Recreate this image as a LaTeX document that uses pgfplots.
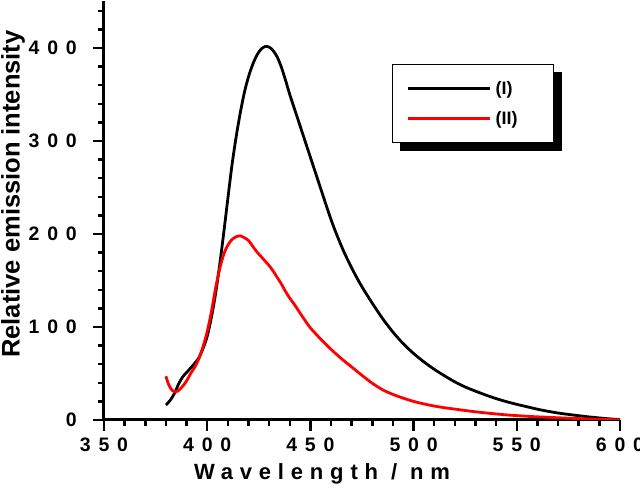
\documentclass[border=0pt]{standalone}
\usepackage{fontspec}
\setmainfont{Liberation Sans}
\newfontfamily\tickfont[LetterSpace=40]{Liberation Sans}
\newfontfamily\xlabfont[LetterSpace=31]{Liberation Sans}
\usepackage{pgfplots}
\pgfplotsset{compat=1.18}
\usetikzlibrary{backgrounds}
\begin{document}
\begin{tikzpicture}
\begin{axis}[
  width=516pt, height=418.5pt, scale only axis,
  xmin=350, xmax=600, ymin=0, ymax=450,
  axis x line=bottom, axis y line=left,
  axis line style={-, line width=3pt, black},
  xtick={350,400,...,600}, ytick={0,100,...,400},
  minor xtick={360,370,...,590},
  minor ytick={20,40,60,80,120,140,160,180,220,240,260,280,320,340,360,380,420,440},
  tick align=outside,
  major tick length=11pt, minor tick length=6pt,
  every tick/.style={black, line width=2.5pt},
  /pgf/number format/assume math mode=true,
  ticklabel style={font=\tickfont\bfseries\fontsize{19.5}{21}\selectfont, inner sep=0pt},
  xticklabel style={anchor=base, yshift=-20.7pt},
  yticklabel style={anchor=east, xshift=-16pt},
  xlabel={\xlabfont\bfseries\fontsize{22}{24}\selectfont Wavelength / nm},
  xlabel style={at={(rel axis cs:0,0)}, anchor=base, xshift=218pt, yshift=-60pt, inner sep=0pt},
  ylabel={\bfseries\fontsize{25.5}{27}\selectfont Relative emission intensity},
  ylabel style={at={([xshift=-91pt]rel axis cs:0,0.540)}, anchor=center, inner sep=0pt},
  legend style={at={(rel axis cs:0.558,0.8507)}, anchor=north west, name=leg,
    draw=black, line width=1.3pt, fill=white,
    inner xsep=14pt, inner ysep=9pt, row sep=0pt, column sep=4pt,
    font=\bfseries\fontsize{18}{20}\selectfont,
    nodes={minimum height=30pt, inner sep=0pt},
    /tikz/every even column/.append style={text width=44pt, align=left}},
  legend cell align=left,
  legend image code/.code={\draw[#1, line width=3pt] (0pt,0pt) -- (82pt,0pt);},
]
\addplot[black, line width=2.8pt, smooth] coordinates {
(380,16) (382,21) (384,28) (386,38) (388,46) (390,51) (392,56) (394,61) (396,67) (398,77)
(400,90) (402,110) (404,135) (406,166) (408,201) (410,238) (412,274) (414,304) (416,330)
(418,352) (420,369) (422,382) (424,392) (426,398.5) (428,401.5) (430,401) (432,397) (434,390)
(436,379) (438,365) (440,350) (442,336.5) (444,323) (446,309.5) (448,296) (450,282.5)
(452,269) (454,255.5) (456,242) (458,228.5) (460,215.5) (462,203.5) (464,192.5) (466,182)
(468,172.5) (470,163.5) (472,155) (474,147) (476,139.5) (478,132.5) (480,125.5) (485,109)
(490,94.5) (495,82) (500,71.5) (505,62.5) (510,54.5) (515,47.5) (520,41) (525,35.5)
(530,31) (535,26.8) (540,23) (545,19.7) (550,16.8) (555,14.2) (560,11.6) (565,9.4)
(570,7.5) (575,6) (580,4.6) (585,3.3) (590,2.2) (595,1.2) (600,0.4)
};
\addlegendentry{(I)}
\addplot[red, line width=2.8pt, smooth] coordinates {
(380,47) (381,40) (382,35) (383,32) (384,30.5) (385,30.5) (386,31.5) (388,36) (390,42)
(392,50) (394,57) (396,66) (398,79) (400,95) (402,116) (404,141) (406,162) (408,178)
(410,188) (412,194) (414,197) (416,198) (418,196) (420,193) (422,187) (424,181) (426,176)
(428,171) (430,166) (432,160) (434,153) (436,146) (438,138) (440,131) (442,125) (445,115)
(448,105) (450,99) (455,87) (460,76) (465,66) (470,57) (475,48) (480,39.5) (485,32.5)
(490,27.5) (495,23.5) (500,20) (505,17.3) (510,15) (515,13.2) (520,11.7) (525,10.2)
(530,8.8) (535,7.6) (540,6.5) (545,5.5) (550,4.7) (555,4) (560,3.4) (565,2.9) (570,2.4)
(575,1.9) (580,1.5) (585,1.1) (590,0.7) (595,0.4) (600,0.2)
};
\addlegendentry{(II)}
\coordinate (BL) at ([shift={(-104pt,-68pt)}]rel axis cs:0,0);
\coordinate (TR) at ([shift={(20pt,1.5pt)}]rel axis cs:1,1);
\end{axis}
\begin{pgfonlayer}{background}
\fill[black] ([shift={(8pt,-8pt)}]leg.south west) rectangle ([shift={(8pt,-8pt)}]leg.north east);
\end{pgfonlayer}
\pgfresetboundingbox
\path[use as bounding box] (BL) rectangle (TR);
\end{tikzpicture}
\end{document}
